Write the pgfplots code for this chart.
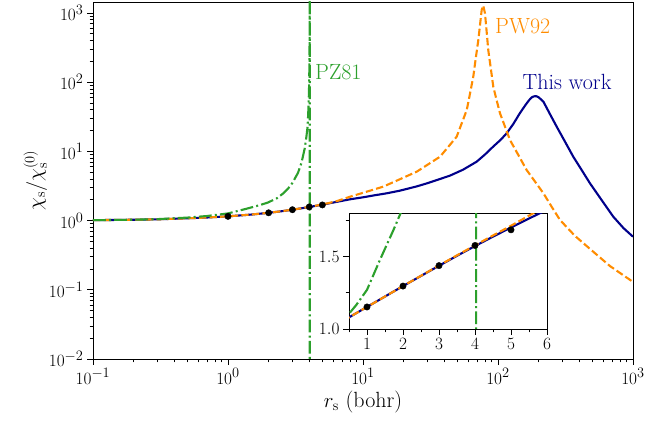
\documentclass[border=0pt]{standalone}
\usepackage{pgfplots}
\pgfplotsset{compat=1.18}
\usepackage{pgfplotstable}
\definecolor{navyc}{RGB}{0,0,139}
\definecolor{orangec}{RGB}{255,140,0}
\definecolor{greenc}{RGB}{44,160,44}

\pgfplotstableread{
x y
0.1 1.014
0.2 1.029
0.3 1.043
0.5 1.080
0.7 1.109
1 1.152
1.5 1.224
2 1.296
2.5 1.366
3 1.436
3.5 1.505
4 1.572
4.5 1.637
5 1.700
5.5 1.762
6 1.822
7 1.930
8 2.030
10 2.17
12 2.31
15 2.48
18.8 2.71
25 3.12
30 3.47
37 3.98
44 4.46
55 5.43
69.5 7.10
80 9.0
92 11.7
105 14.8
116 18.3
130 25.0
145 35.5
160 47.0
170 55.0
178 60.5
185 62.5
192 62.8
200 60.5
208 56.5
217 52.3
240 36.0
272 22.8
310 14.4
361 8.38
420 5.25
480 3.46
590 1.94
714 1.14
850 0.78
1000 0.585
}\bluedata

\pgfplotstableread{
x y
0.1 1.014
0.2 1.029
0.3 1.043
0.5 1.080
0.7 1.109
1 1.152
1.5 1.224
2 1.296
2.5 1.367
3 1.438
3.5 1.508
4 1.577
4.5 1.645
5 1.712
5.63 1.800
6.5 1.93
8 2.21
10 2.52
12 2.81
14.1 3.09
18 3.82
25 5.09
30 6.4
37.2 8.38
44 12.4
49.4 16.3
54 25.8
58.7 39.7
62 68
65.6 120
68.5 225
71.5 407
74 740
75.7 1105
77.8 1280
80.1 990
82 600
84.7 292
88 170
92.3 86
97 58
103.5 35.5
112 23.5
122.7 14.6
140 9.2
163 5.38
190 3.56
217 2.48
250 1.58
288 1.02
372 0.60
480 0.39
676 0.22
1000 0.13
}\orangedata

\pgfplotstableread{
x y
0.1 1.013
0.2 1.03
0.3 1.05
0.5 1.105
0.7 1.165
1 1.27
1.36 1.477
1.73 1.68
1.97 1.82
2.3 2.1
2.57 2.48
2.8 2.94
3.0 3.5
3.3 4.9
3.5 6.8
3.7 11
3.8 15.7
3.89 23
3.95 45
3.99 90
4.01 181
4.02 362
4.025 724
4.028 1500
4.03 5000
4.031 0.0001
}\greendata

\pgfplotstableread{
x y
1 1.152
2 1.296
3 1.437
4 1.576
5 1.684
}\dotdata

\pgfplotsset{
  mystyle/.style={
    scale only axis,
    tick align=outside,
    tick pos=left,
    axis line style={line width=0.9pt},
    major tick length=6pt,
    minor tick length=3.5pt,
    every tick/.style={black, line width=0.8pt},
    tick label style={font=\fontsize{19}{22}\selectfont},
    clip=true,
  },
  blueline/.style={navyc, line width=2.1pt, line join=round},
  orangeline/.style={orangec, line width=2.1pt, dash pattern=on 7.4pt off 3.2pt},
  greenline/.style={greenc, line width=2.1pt, dash pattern=on 12.8pt off 3.2pt on 2pt off 3.2pt},
}

\begin{document}
\begin{tikzpicture}[x=1pt,y=1pt]
\path[use as bounding box] (-93,-63) rectangle (577,359);
\begin{axis}[mystyle,
  at={(0,0)}, anchor=south west,
  width=540pt, height=357pt,
  xmode=log, ymode=log,
  xmin=0.1, xmax=1000, ymin=0.01, ymax=1442,
  xtick={0.1,1,10,100,1000},
  ytick={0.01,0.1,1,10,100,1000},
  minor xtick={0.2,0.3,0.4,0.5,0.6,0.7,0.8,0.9,2,3,4,5,6,7,8,9,20,30,40,50,60,70,80,90,200,300,400,500,600,700,800,900},
  minor ytick={0.02,0.03,0.04,0.05,0.06,0.07,0.08,0.09,0.2,0.3,0.4,0.5,0.6,0.7,0.8,0.9,2,3,4,5,6,7,8,9,20,30,40,50,60,70,80,90,200,300,400,500,600,700,800,900},
  xlabel={$r_\mathrm{s}$ (bohr)},
  ylabel={$\chi_\mathrm{s}/\chi_\mathrm{s}^{(0)}$},
  label style={font=\fontsize{22}{26}\selectfont},
  ylabel shift=-5pt,
]
\addplot[blueline] table {\bluedata};
\addplot[orangeline] table {\orangedata};
\addplot[greenline] table {\greendata};
\addplot[only marks, mark=*, mark size=3.2pt, black] table {\dotdata};
\node[anchor=base west, text=greenc, font=\fontsize{22}{26}\selectfont, inner sep=0pt] at (axis cs:4.41,111) {PZ81};
\node[anchor=base west, text=orangec, font=\fontsize{22}{26}\selectfont, inner sep=0pt] at (axis cs:95,509) {PW92};
\node[anchor=base west, text=navyc, font=\fontsize{22}{26}\selectfont, inner sep=0pt] at (axis cs:152,78.9) {This work};
\end{axis}
\begin{axis}[mystyle,
  at={(256pt,30pt)}, anchor=south west,
  width=198pt, height=116pt,
  axis background/.style={fill=white},
  xmin=0.5, xmax=6, ymin=1, ymax=1.8,
  xtick={1,2,3,4,5,6},
  minor xtick={0.5,1.5,2.5,3.5,4.5,5.5},
  ytick={1,1.5},
  minor ytick={1.25,1.75},
  yticklabel style={/pgf/number format/fixed, /pgf/number format/fixed zerofill, /pgf/number format/precision=1},
]
\addplot[blueline, restrict x to domain=0:8] table {\bluedata};
\addplot[orangeline, restrict x to domain=0:8] table {\orangedata};
\addplot[greenline, restrict x to domain=0:8, restrict y to domain*=0:30] table {\greendata};
\addplot[only marks, mark=*, mark size=3.2pt, black] table {\dotdata};
\end{axis}
\end{tikzpicture}
\end{document}
